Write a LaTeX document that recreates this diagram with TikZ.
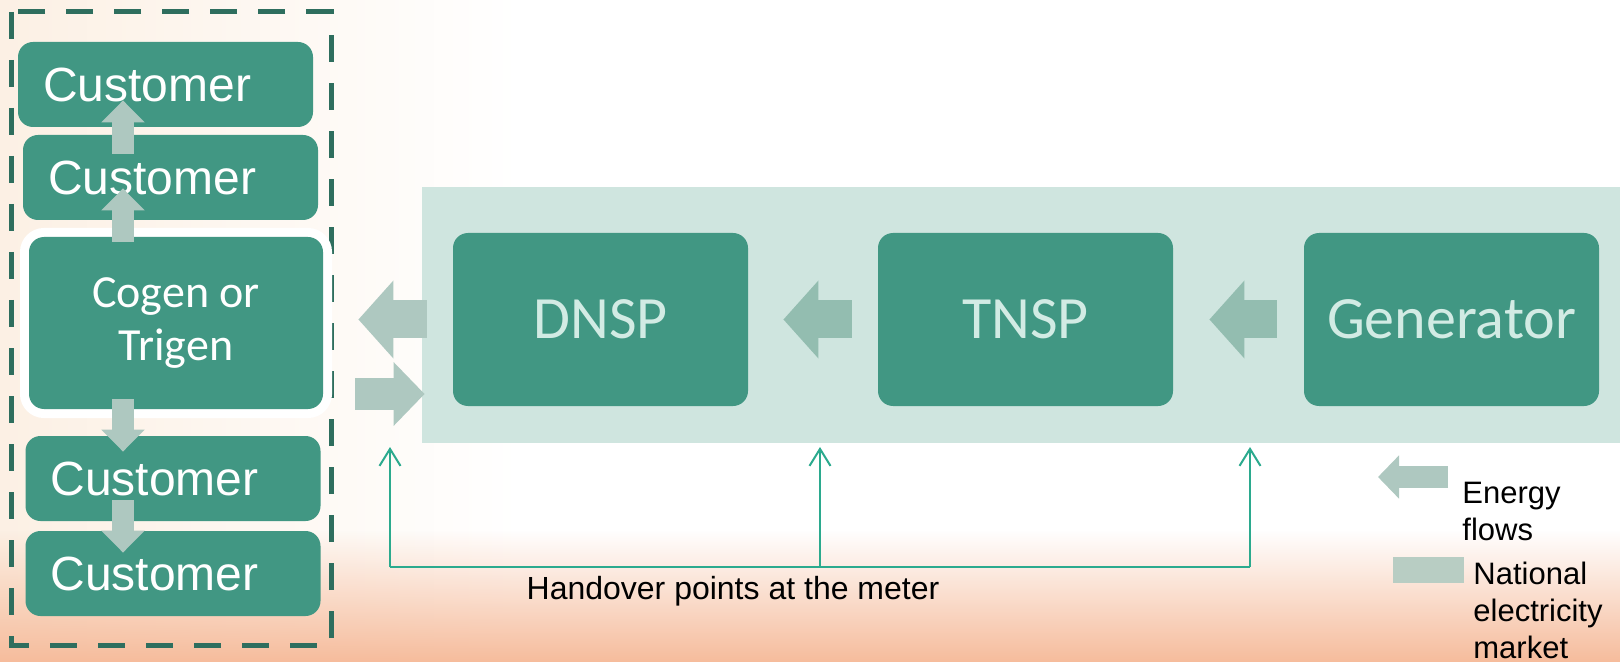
\documentclass[tikz,border=0pt]{standalone}
\usepackage{fontspec}
\setmainfont{Liberation Sans}
\newfontfamily\calfont{Carlito}
\usetikzlibrary{arrows.meta,fadings}

\definecolor{boxteal}{RGB}{65,151,131}
\definecolor{bandgreen}{RGB}{207,229,223}
\definecolor{flowpale}{RGB}{174,200,192}
\definecolor{flowdark}{RGB}{147,189,176}
\definecolor{frameteal}{RGB}{46,110,94}
\definecolor{meterteal}{RGB}{43,170,142}
\definecolor{boxtext}{RGB}{210,235,228}
\definecolor{legkey}{RGB}{184,205,195}
\definecolor{cream}{RGB}{252,240,228}
\definecolor{peach}{RGB}{246,188,156}

\tikzset{
    cust/.style={rectangle, rounded corners=7.5pt, fill=boxteal, text=white,
        font=\fontsize{24}{28}\selectfont, text width=122.5pt, align=left,
        inner xsep=12.5pt, inner ysep=0pt, minimum height=42.5pt},
    cogenbox/.style={rectangle, rounded corners=7.5pt, fill=boxteal, text=white,
        preaction={draw=white, line width=9pt},
        font=\calfont\fontsize{23}{26.5}\selectfont, align=center,
        minimum width=147pt, minimum height=86pt},
    nembox/.style={rectangle, rounded corners=7.5pt, fill=boxteal, text=boxtext,
        font=\calfont\fontsize{30}{36}\selectfont,
        minimum width=147.5pt, minimum height=86.5pt},
    flow/.style={draw=flowdark, line width=19pt, -{Triangle[length=17.5pt,width=38pt]}},
    flowin/.style={draw=flowpale, line width=16pt, -{Triangle[length=15.5pt,width=31pt]}},
    flowv/.style={draw=flowpale, line width=11pt, -{Triangle[length=11pt,width=21pt]}},
    meter/.style={draw=meterteal, line width=1pt},
    legtext/.style={font=\fontsize{15.5}{18.5}\selectfont, align=left, inner sep=0pt}
}

\begin{document}
\begin{tikzpicture}[x=0.5pt,y=-0.5pt]
    \useasboundingbox (0,0) rectangle (1620,662);
    %% background
    \fill[white] (0,0) rectangle (1620,662);
    \shade[left color=cream, right color=white] (0,0) rectangle (520,662);
    \fill[peach, path fading=north] (0,530) rectangle (1620,662);
    %% national electricity market
    \fill[bandgreen] (422,187) rectangle (1620,443);
    %% customer side
    \draw[frameteal, line width=2.5pt, dash pattern=on 13.5pt off 10.5pt] (11,12) rectangle (331,645);
    \node[cust] (cust1) at (165.5,84.5) {Customer};
    \node[cust] (cust2) at (170.5,177.5) {Customer};
    \node[cogenbox] (cogen) at (176,323) {Cogen or\\Trigen};
    \node[cust] (cust3) at (173,478.5) {Customer};
    \node[cust] (cust4) at (173,573.5) {Customer};
    \coordinate (ax) at (123,0);
    \draw[flowv, shorten <=-9.5pt, shorten >=-13.5pt] (ax |- cust2.north) -- (ax |- cust1.south);
    \draw[flowv, shorten <=-2.5pt, shorten >=-16pt] (ax |- cogen.north) -- (ax |- cust2.south);
    \draw[flowv, shorten <=-5pt, shorten >=-8pt] (ax |- cogen.south) -- (ax |- cust3.north);
    \draw[flowv, shorten <=-10.5pt, shorten >=-11pt] (ax |- cust3.south) -- (ax |- cust4.north);
    %% network
    \node[nembox] (dnsp) at (600.5,319.5) {DNSP};
    \node[nembox] (tnsp) at (1025.5,319.5) {TNSP};
    \node[nembox] (gen) at (1451.5,319.5) {Generator};
    \draw[flow, shorten <=13.5pt, shorten >=18pt] (gen.west) -- (tnsp.east);
    \draw[flow, shorten <=13pt, shorten >=17.5pt] (tnsp.west) -- (dnsp.east);
    \draw[flow, draw=flowpale, shorten <=13pt, shorten >=17.5pt] (dnsp.west) -- (dnsp.west -| cogen.east);
    \coordinate (inlvl) at ([yshift=-35.5pt]cogen.east);
    \draw[flowin, shorten <=16pt, shorten >=14pt] (inlvl) -- (inlvl -| dnsp.west);
    %% handover points
    \coordinate (m1) at (390,447);
    \coordinate (m2) at (820,447);
    \coordinate (m3) at (1250,447);
    \coordinate (mb) at (0,567);
    \draw[meter] (m1 |- mb) -- (m3 |- mb);
    \foreach \m in {m1,m2,m3}
        \draw[meter, -{Straight Barb[length=8.5pt,width=10.5pt]}] (\m |- mb) -- (\m);
    \node[anchor=base, font=\fontsize{16}{19}\selectfont] (hand) at (733,599) {Handover points at the meter};
    %% legend
    \node[legtext, anchor=north west] (eleg) at (1462,482) {Energy\\flows};
    \draw[flowv, -{Triangle[length=10.5pt,width=21pt]}] ([shift={(-14,-5)}]eleg.north west) -- ++(-70,0);
    \node[legtext, anchor=north west] (nleg) at (1473,562) {National\\electricity\\market};
    \node[fill=legkey, minimum width=35.5pt, minimum height=13pt, inner sep=0pt, anchor=north east] (key) at ([shift={(-9,-5)}]nleg.north west) {};
\end{tikzpicture}
\end{document}
